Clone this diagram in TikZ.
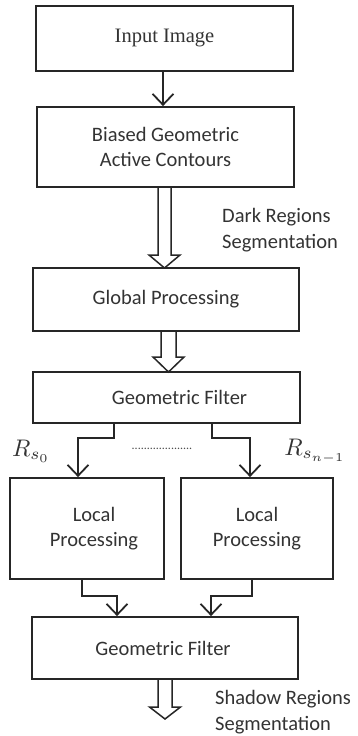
\documentclass[tikz,border=0pt]{standalone}
\usepackage{graphicx}
\usepackage{fontspec}
\setmainfont{Carlito}
\newfontfamily\serifface{Liberation Serif}
\usetikzlibrary{arrows.meta,calc}
\newcommand\fatarrow[6]{%
  \draw[fat] (#1-#5,#2) -- (#1-#5,#3) -- (#1-#6,#3) -- (#1,#4) -- (#1+#6,#3) -- (#1+#5,#3) -- (#1+#5,#2);}
\begin{document}
\begin{tikzpicture}[x=1pt,y=-1pt,
  box/.style={draw=black!85, line width=1.8pt, inner sep=0pt, align=center,
    text=black!80, font=\fontsize{20.5}{25.5}\selectfont},
  arr/.style={draw=black!85, line width=1.8pt, -{Straight Barb[length=11pt,width=21pt,line width=1.8pt]}},
  fat/.style={draw=black!85, line width=1.5pt, line join=miter},
  lbl/.style={text=black!80, font=\fontsize{20.5}{25.5}\selectfont, align=left, inner sep=0pt}]
\useasboundingbox (0,0) rectangle (357,736);
\node[box, minimum width=257pt, minimum height=65pt, font=\serifface\fontsize{20.5}{25.5}\selectfont] (in) at (164.5,38.5) {\raisebox{3pt}{Input Image}};
\node[box, minimum width=257pt, minimum height=80pt] (bgac) at (165.5,147) {Biased Geometric\\Active Contours};
\node[box, minimum width=266pt, minimum height=63pt] (gp) at (166,299.5) {Global Processing};
\node[box, minimum width=267pt, minimum height=51pt] (gf1) at (166.5,397.5) {\hspace*{26pt}Geometric Filter};
\node[box, minimum width=154pt, minimum height=101pt] (lp1) at (87,528.5) {\hspace*{14pt}Local\\\hspace*{14pt}Processing};
\node[box, minimum width=152pt, minimum height=101pt] (lp2) at (257,528.5) {Local\\Processing};
\node[box, minimum width=266pt, minimum height=62pt] (gf2) at (165,648) {\hspace*{-4pt}Geometric Filter};
% connectors
\draw[arr] ([xshift=-1.5pt]in.south) -- ([xshift=-2.5pt]bgac.north);
\fatarrow{164.5}{187}{255}{268}{6.5}{15.5}
\fatarrow{168.5}{331}{357}{372}{7.5}{15.5}
\fatarrow{165}{679}{707}{719}{7}{15.5}
\draw[arr] ([xshift=-52.5pt]gf1.south) -- ++(0,14) -| ([xshift=-9pt]lp1.north);
\draw[arr] ([xshift=45.5pt]gf1.south) -- ++(0,14) -| ([xshift=-7pt]lp2.north);
\draw[arr] ([xshift=-5pt]lp1.south) -- ++(0,16) -| ([xshift=-48pt]gf2.north);
\draw[arr] ([xshift=-5pt]lp2.south) -- ++(0,16) -| ([xshift=46pt]gf2.north);
% labels
\node[lbl, anchor=west] (dark) at (222,230) {Dark Regions\\Segmentation};
\node[lbl, anchor=west] (shadow) at (215,712) {Shadow Regions\\Segmentation};
\node[text=black!80, inner sep=0pt] (r0) at (31,451) {\scalebox{2.4}{$R_{s_0}$}};
\node[text=black!80, inner sep=0pt] (rn) at (315,451) {\scalebox{2.4}{$R_{s_{n-1}}$}};
\node[text=black!70, inner sep=0pt, font=\fontsize{12}{14}\selectfont] (dots) at (162,449) {....................};
\end{tikzpicture}
\end{document}
